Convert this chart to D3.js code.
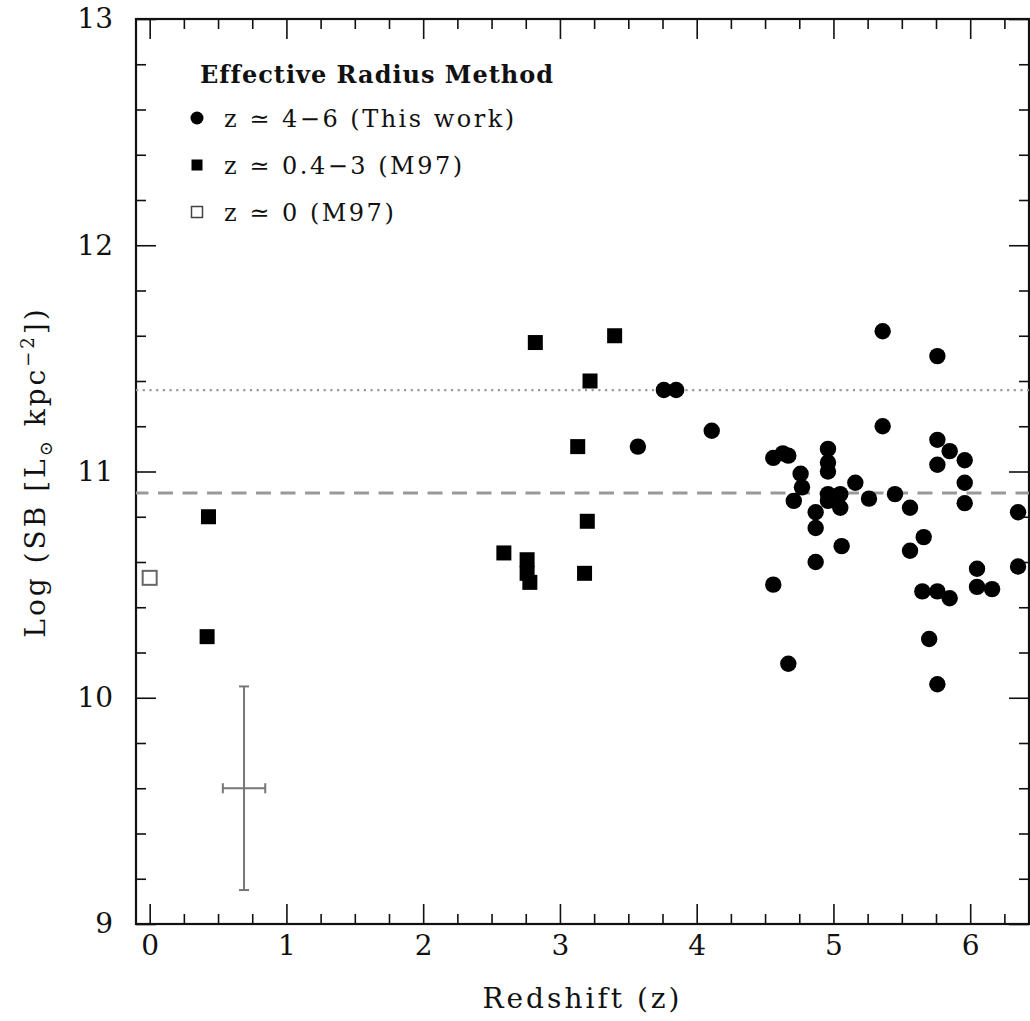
<!DOCTYPE html>
<html>
<head>
<meta charset="utf-8">
<script src="https://cdn.jsdelivr.net/npm/d3@7"></script>
<style>
  body { margin: 0; background: #fff; }
  text { font-family: "DejaVu Serif", serif; fill: #111; }
</style>
</head>
<body>
<div id="chart-area"></div>
<script>
// z ~ 4-6 (this work), filled circles
var circleZ  = [3.76, 3.85, 3.57, 4.11, 5.36, 5.36, 4.56, 4.63, 4.67, 4.76, 4.77, 4.71, 4.87, 4.87,
                4.96, 4.96, 4.96, 4.96, 4.96, 5.05, 5.05, 5.16, 5.26, 5.06, 4.87, 4.56, 4.67, 5.45,
                5.76, 5.76, 5.85, 5.96, 5.76, 5.96, 5.96, 5.56, 5.66, 5.56, 5.65, 5.76, 5.85, 6.05,
                6.05, 6.16, 6.35, 6.35, 5.70, 5.76];
var circleSB = [11.36, 11.36, 11.11, 11.18, 11.62, 11.20, 11.06, 11.08, 11.07, 10.99, 10.93, 10.87, 10.82, 10.75,
                11.10, 11.04, 11.00, 10.90, 10.87, 10.90, 10.84, 10.95, 10.88, 10.67, 10.60, 10.50, 10.15, 10.90,
                11.51, 11.14, 11.09, 11.05, 11.03, 10.95, 10.86, 10.84, 10.71, 10.65, 10.47, 10.47, 10.44, 10.57,
                10.49, 10.48, 10.82, 10.58, 10.26, 10.06];

// z ~ 0.4-3 (M97), filled squares
var squareZ  = [0.43, 0.42, 2.82, 3.40, 3.22, 3.13, 3.20, 2.59, 2.76, 2.76, 2.78, 3.18];
var squareSB = [10.80, 10.27, 11.57, 11.60, 11.40, 11.11, 10.78, 10.64, 10.61, 10.55, 10.51, 10.55];

// z ~ 0 (M97), open square
var openZ  = [0.0];
var openSB = [10.53];

// typical error bar
var errZ = 0.69, errSB = 9.6, errDZ = 0.155, errDSB = 0.45;

// reference lines
var dottedSB = 11.36;
var dashedSB = 10.905;

var xMajor = [0, 1, 2, 3, 4, 5, 6];
var yMajor = [9, 10, 11, 12, 13];

var legendLabels = ["z \u2243 4\u22126 (This work)", "z \u2243 0.4\u22123 (M97)", "z \u2243 0 (M97)"];

var W = 1030, H = 1021;
var mLeft = 136, mRight = 1029, mTop = 19, mBottom = 924;

var svg = d3.select("#chart-area").append("svg")
    .attr("width", W)
    .attr("height", H);

var x = d3.scaleLinear().domain([-0.1, 6.43]).range([mLeft, mRight]);
var y = d3.scaleLinear().domain([9, 13]).range([mBottom, mTop]);

var xMinor = d3.range(0, 6.5, 0.25).filter(function(d) { return d % 1 !== 0; });
var yMinor = d3.range(9, 13, 0.2).map(function(d) { return Math.round(d * 10) / 10; })
    .filter(function(d) { return d % 1 !== 0; });

function styleAxis(g) {
    g.select(".domain").remove();
    g.selectAll(".tick line").attr("stroke", "#111").attr("stroke-width", 1.6);
    g.selectAll(".tick text").style("font-size", "28px").attr("fill", "#111");
}

// bottom
svg.append("g").attr("transform", "translate(0," + mBottom + ")")
    .call(d3.axisBottom(x).tickValues(xMajor).tickSize(-20).tickPadding(11).tickFormat(d3.format("d")))
    .call(styleAxis);
svg.append("g").attr("transform", "translate(0," + mBottom + ")")
    .call(d3.axisBottom(x).tickValues(xMinor).tickSize(-10).tickFormat(""))
    .call(styleAxis);
// top
svg.append("g").attr("transform", "translate(0," + mTop + ")")
    .call(d3.axisTop(x).tickValues(xMajor).tickSize(-20).tickFormat(""))
    .call(styleAxis);
svg.append("g").attr("transform", "translate(0," + mTop + ")")
    .call(d3.axisTop(x).tickValues(xMinor).tickSize(-10).tickFormat(""))
    .call(styleAxis);
// left
svg.append("g").attr("transform", "translate(" + mLeft + ",0)")
    .call(d3.axisLeft(y).tickValues(yMajor).tickSize(-20).tickPadding(23).tickFormat(d3.format("d")))
    .call(styleAxis);
svg.append("g").attr("transform", "translate(" + mLeft + ",0)")
    .call(d3.axisLeft(y).tickValues(yMinor).tickSize(-10).tickFormat(""))
    .call(styleAxis);
// right
svg.append("g").attr("transform", "translate(" + mRight + ",0)")
    .call(d3.axisRight(y).tickValues(yMajor).tickSize(-20).tickFormat(""))
    .call(styleAxis);
svg.append("g").attr("transform", "translate(" + mRight + ",0)")
    .call(d3.axisRight(y).tickValues(yMinor).tickSize(-10).tickFormat(""))
    .call(styleAxis);

// frame
svg.append("rect")
    .attr("x", mLeft).attr("y", mTop)
    .attr("width", mRight - mLeft).attr("height", mBottom - mTop)
    .attr("fill", "none").attr("stroke", "#111").attr("stroke-width", 2.2);

// reference lines
svg.append("line")
    .attr("x1", mLeft).attr("x2", mRight)
    .attr("y1", y(dottedSB)).attr("y2", y(dottedSB))
    .attr("stroke", "#999").attr("stroke-width", 2.2)
    .attr("stroke-dasharray", "2.2,4.5");
svg.append("line")
    .attr("x1", mLeft).attr("x2", mRight)
    .attr("y1", y(dashedSB)).attr("y2", y(dashedSB))
    .attr("stroke", "#999").attr("stroke-width", 3)
    .attr("stroke-dasharray", "15,9.5")
    .attr("stroke-dashoffset", -22);

// error bar
var eb = svg.append("g").attr("stroke", "#777").attr("stroke-width", 2);
eb.append("line").attr("x1", x(errZ)).attr("x2", x(errZ))
    .attr("y1", y(errSB - errDSB)).attr("y2", y(errSB + errDSB));
eb.append("line").attr("x1", x(errZ - errDZ)).attr("x2", x(errZ + errDZ))
    .attr("y1", y(errSB)).attr("y2", y(errSB));
[errSB - errDSB, errSB + errDSB].forEach(function(v) {
    eb.append("line").attr("x1", x(errZ) - 5).attr("x2", x(errZ) + 5)
        .attr("y1", y(v)).attr("y2", y(v));
});
[errZ - errDZ, errZ + errDZ].forEach(function(v) {
    eb.append("line").attr("x1", x(v)).attr("x2", x(v))
        .attr("y1", y(errSB) - 5).attr("y2", y(errSB) + 5);
});

// data
svg.selectAll("rect.sq")
    .data(squareZ)
    .enter().append("rect")
    .attr("class", "sq")
    .attr("x", function(d) { return x(d) - 7.5; })
    .attr("y", function(d, i) { return y(squareSB[i]) - 7.5; })
    .attr("width", 15).attr("height", 15)
    .attr("fill", "#000");

svg.selectAll("rect.open")
    .data(openZ)
    .enter().append("rect")
    .attr("class", "open")
    .attr("x", function(d) { return x(d) - 7; })
    .attr("y", function(d, i) { return y(openSB[i]) - 7; })
    .attr("width", 14).attr("height", 14)
    .attr("fill", "#fff").attr("stroke", "#666").attr("stroke-width", 2);

svg.selectAll("circle.pt")
    .data(circleZ)
    .enter().append("circle")
    .attr("class", "pt")
    .attr("cx", function(d) { return x(d); })
    .attr("cy", function(d, i) { return y(circleSB[i]); })
    .attr("r", 8.2)
    .attr("fill", "#000");

// legend
svg.append("text")
    .attr("x", 200).attr("y", 83)
    .style("font-size", "24px").style("font-weight", "bold").style("letter-spacing", "1px")
    .text("Effective Radius Method");

var legendY = [118, 165, 212];
var leg = svg.selectAll("g.leg")
    .data(legendLabels)
    .enter().append("g")
    .attr("class", "leg")
    .attr("transform", function(d, i) { return "translate(197," + legendY[i] + ")"; });

leg.append("text")
    .attr("x", 27).attr("y", 9)
    .style("font-size", "24px").style("letter-spacing", "2.5px")
    .text(function(d) { return d; });

leg.filter(function(d, i) { return i === 0; }).append("circle")
    .attr("r", 6.5).attr("fill", "#000");
leg.filter(function(d, i) { return i === 1; }).append("rect")
    .attr("x", -5.5).attr("y", -5.5).attr("width", 11).attr("height", 11).attr("fill", "#000");
leg.filter(function(d, i) { return i === 2; }).append("rect")
    .attr("x", -5.5).attr("y", -5.5).attr("width", 11).attr("height", 11)
    .attr("fill", "#fff").attr("stroke", "#444").attr("stroke-width", 1.5);

// axis titles
svg.append("text")
    .attr("x", (mLeft + mRight) / 2).attr("y", 1008)
    .attr("text-anchor", "middle")
    .style("font-size", "28px").style("letter-spacing", "3px")
    .text("Redshift (z)");

var yl = svg.append("text")
    .attr("transform", "translate(45,472) rotate(-90)")
    .attr("text-anchor", "middle")
    .style("font-size", "28px").style("letter-spacing", "3px");
yl.append("tspan").text("Log (SB [L");
yl.append("tspan").attr("dy", 7).style("font-size", "18px").text("\u2299");
yl.append("tspan").attr("dy", -7).text(" kpc");
yl.append("tspan").attr("dy", -11).style("font-size", "18px").text("\u22122");
yl.append("tspan").attr("dy", 11).text("])");
</script>
</body>
</html>
